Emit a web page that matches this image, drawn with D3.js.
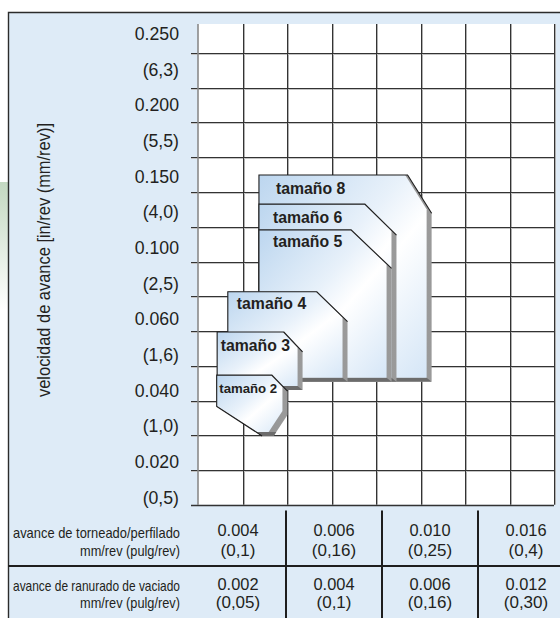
<!DOCTYPE html>
<html><head><meta charset="utf-8">
<script src="https://cdn.jsdelivr.net/npm/d3@7"></script>
<style>
body{margin:0;background:#fff}
svg{display:block}
text{font-family:"Liberation Sans",Arial,Helvetica,sans-serif;fill:#231f20}
</style>
</head><body>
<svg id="c" width="560" height="618"></svg>
<script>
// ---------------- DATA ----------------
const yTickLabels = ["0.250","(6,3)","0.200","(5,5)","0.150","(4,0)","0.100","(2,5)","0.060","(1,6)","0.040","(1,0)","0.020","(0,5)"];
const yTitle = "velocidad de avance [in/rev (mm/rev)]";

// insert size panels, in grid units (x: columns 0-8, y: rows 0-14 from top)
const sizeNames   = ["tamaño 8","tamaño 6","tamaño 5","tamaño 4","tamaño 3","tamaño 2"];
const sizeLeft    = [1.37, 1.37, 1.37, 0.67, 0.43, 0.42];
const sizeRight   = [5.25, 4.46, 4.35, 3.36, 2.35, 2.01];
const sizeTop     = [4.51, 5.35, 6.09, 7.87, 9.03, 10.27];
const sizeBottom  = [10.46, 10.46, 10.46, 10.46, 10.70, 12.02];
const chamferTopX   = [4.71, 3.75, 3.44, 2.67, 1.93, 1.66];
const chamferRightY = [5.61, 6.24, 7.20, 8.73, 9.60, 10.73];
const chamferLowRightY = [null, null, null, null, null, 11.42];
const chamferLowRightX = [null, null, null, null, null, 1.70];
const chamferLowLeftX  = [null, null, null, null, null, 1.44];
const chamferLowLeftY  = [null, null, null, null, null, 11.17];

const turnLabel = ["avance de torneado/perfilado", "mm/rev (pulg/rev)"];
const turnFeed = ["0.004","0.006","0.010","0.016"];
const turnFeedMetric = ["(0,1)","(0,16)","(0,25)","(0,4)"];
const grooveLabel = ["avance de ranurado de vaciado", "mm/rev (pulg/rev)"];
const grooveFeed = ["0.002","0.004","0.006","0.012"];
const grooveFeedMetric = ["(0,05)","(0,1)","(0,16)","(0,30)"];

// ---------------- STYLE / LAYOUT ----------------
const W = 560, H = 618;
const labelDx = [17, 14, 14, 9, 3.5, 2.6];
const labelDy = [19, 19.3, 17.3, 17.3, 18.7, 18.3];
const labelSize = [15.8, 15.8, 15.8, 15.8, 15.8, 13.2];

const svg = d3.select("#c");
const defs = svg.append("defs");

const gg = defs.append("linearGradient").attr("id","green").attr("x1",0).attr("y1",0).attr("x2",0).attr("y2",1);
gg.append("stop").attr("offset",0).attr("stop-color","#c3d8c1");
gg.append("stop").attr("offset",1).attr("stop-color","#ffffff");

const fg = defs.append("linearGradient").attr("id","face").attr("x1",0).attr("y1",0).attr("x2",1).attr("y2",1);
fg.append("stop").attr("offset",0).attr("stop-color","#bcd6ef");
fg.append("stop").attr("offset",0.42).attr("stop-color","#e8f1fa");
fg.append("stop").attr("offset",0.58).attr("stop-color","#ffffff");
fg.append("stop").attr("offset",1).attr("stop-color","#d2e4f6");

const sg = defs.append("linearGradient").attr("id","side").attr("x1",0).attr("y1",0).attr("x2",1).attr("y2",0);
sg.append("stop").attr("offset",0).attr("stop-color","#8c8c8c");
sg.append("stop").attr("offset",1).attr("stop-color","#9a9a9a");

// background
svg.append("rect").attr("x",0).attr("y",182).attr("width",8).attr("height",128).attr("fill","url(#green)");
svg.append("rect").attr("x",8).attr("y",12).attr("width",W-8).attr("height",H-12).attr("fill","#deebf7");
svg.append("path").attr("d","M8.5,618V12.5H560").attr("fill","none").attr("stroke","#2b2b2b").attr("stroke-width",1.4);

// scales
const x = d3.scaleLinear().domain([0,8]).range([198,554]);
const y = d3.scaleLinear().domain([0,14]).range([18.25,504.75]);
const plotTop = 24, tickLeft = 191;

svg.append("rect").attr("x",x(0)).attr("y",plotTop).attr("width",x(8)-x(0)).attr("height",y(14)-plotTop).attr("fill","#fff");

const grid = svg.append("g");
const cols = d3.range(1,9);
const rows = d3.range(1,14);
grid.selectAll(".vs").data(cols).join("line")
  .attr("x1",d=>Math.round(x(d))+1.5).attr("x2",d=>Math.round(x(d))+1.5)
  .attr("y1",plotTop).attr("y2",y(14)).attr("stroke","#b0b0b0").attr("stroke-width",1);
grid.selectAll(".hs").data(rows).join("line")
  .attr("x1",tickLeft).attr("x2",x(8))
  .attr("y1",d=>Math.round(y(d))+1.5).attr("y2",d=>Math.round(y(d))+1.5).attr("stroke","#c4c4c4").attr("stroke-width",1);
grid.selectAll(".v").data(cols).join("line")
  .attr("x1",d=>Math.round(x(d))+0.5).attr("x2",d=>Math.round(x(d))+0.5)
  .attr("y1",plotTop).attr("y2",y(14)).attr("stroke","#333").attr("stroke-width",1);
grid.selectAll(".h").data(rows).join("line")
  .attr("x1",tickLeft).attr("x2",x(8))
  .attr("y1",d=>Math.round(y(d))+0.5).attr("y2",d=>Math.round(y(d))+0.5).attr("stroke","#333").attr("stroke-width",1);
grid.append("line").attr("x1",x(0)).attr("x2",x(0)).attr("y1",plotTop).attr("y2",y(14))
  .attr("stroke","#8a8a8a").attr("stroke-width",1.6);
grid.append("line").attr("x1",tickLeft).attr("x2",x(8)).attr("y1",Math.round(y(14))+0.5).attr("y2",Math.round(y(14))+0.5)
  .attr("stroke","#333").attr("stroke-width",1.3);

// y tick labels
const yl = d3.scalePoint().domain(yTickLabels).range([33,497]);
const ax = svg.append("g").attr("transform","translate(179,0)")
  .call(d3.axisLeft(yl).tickSize(0).tickPadding(0));
ax.select(".domain").remove();
ax.selectAll("text").attr("font-size","17.7px").attr("font-family","Liberation Sans, Arial, sans-serif")
  .attr("fill","#231f20").attr("dy","0.36em");

// y title
svg.append("text").attr("transform","translate(50,260) rotate(-90)").attr("text-anchor","middle")
  .attr("font-size","17.5px").attr("textLength",274).attr("lengthAdjust","spacingAndGlyphs").text(yTitle);

// size panels
const dR = 5, dB = 4;
function shapePts(i){
  const p = [[x(sizeLeft[i]),y(sizeTop[i])],[x(chamferTopX[i]),y(sizeTop[i])],[x(sizeRight[i]),y(chamferRightY[i])]];
  if (chamferLowRightY[i] != null){
    p.push([x(sizeRight[i]),y(chamferLowRightY[i])],[x(chamferLowRightX[i]),y(sizeBottom[i])],
           [x(chamferLowLeftX[i]),y(sizeBottom[i])],[x(sizeLeft[i]),y(chamferLowLeftY[i])]);
  } else {
    p.push([x(sizeRight[i]),y(sizeBottom[i])],[x(sizeLeft[i]),y(sizeBottom[i])]);
  }
  return p;
}
const shapes = svg.append("g");
sizeNames.forEach((name,i)=>{
  const pts = shapePts(i);
  const ps = pts.map(p=>p.join(",")).join(" ");
  defs.append("clipPath").attr("id","body"+i).append("polygon").attr("points",ps);
  defs.append("clipPath").attr("id","inner"+i).append("polygon").attr("points",ps)
    .attr("transform",`translate(${-dR},${-dB})`);
  const g = shapes.append("g");
  g.append("polygon").attr("points",ps).attr("fill","url(#side)");
  const L = x(sizeLeft[i]), R = x(sizeRight[i]), B = y(sizeBottom[i]);
  g.append("polygon").attr("clip-path",`url(#body${i})`)
    .attr("points",[[L-20,B-dB],[R-dR,B-dB],[R,B],[L-20,B]].map(p=>p.join(",")).join(" "))
    .attr("fill","#6c6c6c");
  g.append("polygon").attr("points",ps).attr("fill","url(#face)").attr("clip-path",`url(#inner${i})`);
  let d;
  if (chamferLowRightY[i] != null){
    d = `M${x(chamferLowLeftX[i])},${B}L${L},${y(chamferLowLeftY[i])}`;
  } else {
    d = `M${L},${B}`;
  }
  d += `L${L},${y(sizeTop[i])}L${x(chamferTopX[i])},${y(sizeTop[i])}L${R},${y(chamferRightY[i])}`;
  g.append("path").attr("d",d).attr("fill","none").attr("stroke","#1e1e1e").attr("stroke-width",1.1);
  g.append("text").attr("x",L+labelDx[i]).attr("y",y(sizeTop[i])+labelDy[i])
    .attr("font-weight","bold").attr("font-size",labelSize[i]+"px").text(name);
});

// feed table
const xt = d3.scaleBand().domain(d3.range(turnFeed.length)).range([190,574]);
const tbl = svg.append("g");
tbl.selectAll(".div").data(d3.range(1,turnFeed.length)).join("line")
  .attr("x1",d=>xt(d)).attr("x2",d=>xt(d)).attr("y1",510.5).attr("y2",H)
  .attr("stroke","#1e1e1e").attr("stroke-width",2);
tbl.append("line").attr("x1",8).attr("x2",W).attr("y1",566).attr("y2",566)
  .attr("stroke","#1e1e1e").attr("stroke-width",2);

function row(label, feed, metric, y1, y2){
  tbl.append("text").attr("x",180).attr("y",y1+1.5).attr("text-anchor","end").attr("font-size","14.5px")
    .attr("textLength",167).attr("lengthAdjust","spacingAndGlyphs").text(label[0]);
  tbl.append("text").attr("x",180).attr("y",y2+0.5).attr("text-anchor","end").attr("font-size","14.5px")
    .attr("textLength",100).attr("lengthAdjust","spacingAndGlyphs").text(label[1]);
  tbl.selectAll(null).data(feed).join("text")
    .attr("x",(d,i)=>xt(i)+xt.bandwidth()/2).attr("y",y1).attr("text-anchor","middle")
    .attr("font-size","17px").attr("textLength",41).attr("lengthAdjust","spacingAndGlyphs").text(d=>d);
  tbl.selectAll(null).data(metric).join("text")
    .attr("x",(d,i)=>xt(i)+xt.bandwidth()/2).attr("y",y2).attr("text-anchor","middle")
    .attr("font-size","17px").text(d=>d);
}
row(turnLabel, turnFeed, turnFeedMetric, 536, 555.5);
row(grooveLabel, grooveFeed, grooveFeedMetric, 589.5, 607.5);
</script>
</body></html>
